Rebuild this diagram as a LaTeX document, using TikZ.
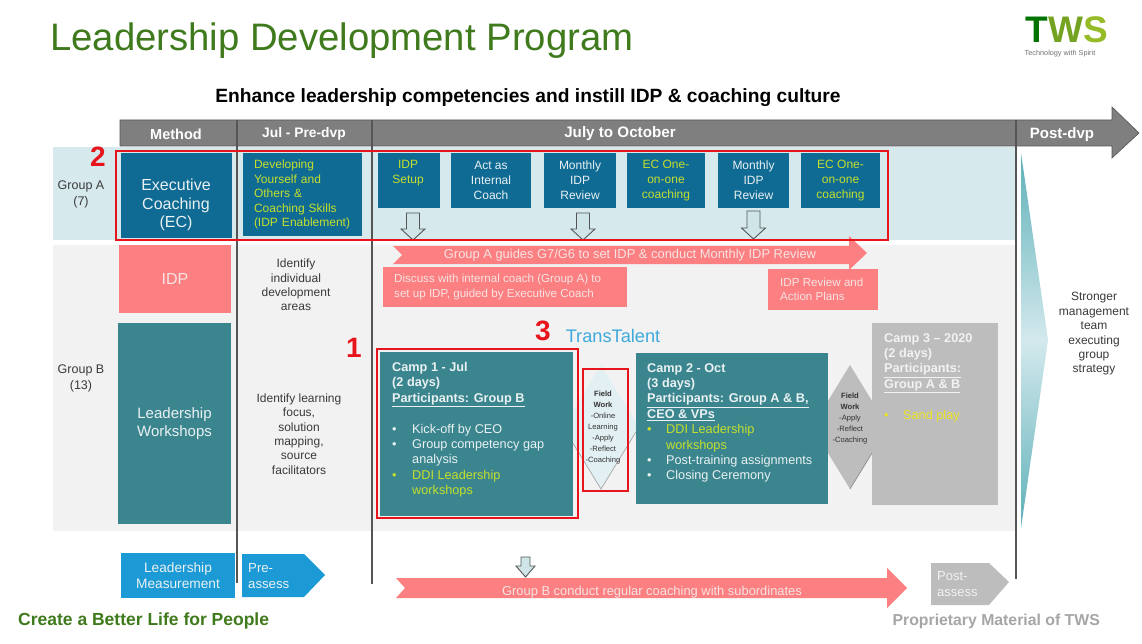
\documentclass[tikz,border=0pt]{standalone}
\usepackage{fontspec}
\setmainfont{Liberation Sans}
\usetikzlibrary{shapes.geometric}
\definecolor{dgreen}{HTML}{3F7A1C}
\definecolor{navy}{HTML}{0F6A94}
\definecolor{lime}{HTML}{C4E02C}
\definecolor{pinkb}{HTML}{FC8081}
\definecolor{pinkt}{HTML}{F7E3E3}
\definecolor{teal}{HTML}{3B858F}
\definecolor{bandg}{HTML}{F2F2F2}
\definecolor{bandb}{HTML}{D6EAEE}
\definecolor{headg}{HTML}{7F7F7F}
\definecolor{lineg}{HTML}{555555}
\definecolor{redm}{HTML}{E8141C}
\definecolor{graybox}{HTML}{BDBDBD}
\definecolor{bluem}{HTML}{1C9AD6}
\definecolor{txt}{HTML}{3A3A3A}
\definecolor{hollow}{HTML}{CFE5E8}
\definecolor{whit}{HTML}{E9F1F2}
\definecolor{triedge}{HTML}{5DB0B8}
\definecolor{trimid}{HTML}{D3E9ED}
\newcommand{\fs}[2]{\fontsize{#1}{#2}\selectfont}
% \rbox{name}{x1}{y1}{x2}{y2}{style}{text}
\newcommand{\rbox}[7]{\node[shape=rectangle,inner sep=0pt,outer sep=0pt,align=center,minimum width={(#4-#2)*1pt},minimum height={(#5-#3)*1pt},#6] (#1) at ({(#2+#4)/2},{(#3+#5)/2}) {#7};}
\newcommand{\hollowarrow}[3]{\draw[hollowstyle] (#1-6.5,#2) -- (#1+6.5,#2) -- (#1+6.5,#3-11) -- (#1+12,#3-11) -- (#1,#3) -- (#1-12,#3-11) -- (#1-6.5,#3-11) -- cycle;}
\newcommand{\bul}[2]{{\color{#1}\makebox[#2][l]{\textbullet}}}
\tikzset{
  x=1pt,y=-1pt,
  hollowstyle/.style={draw=lineg,fill=hollow,line width=0.9pt,line join=miter},
  navybox/.style={fill=navy,text=whit,font=\fs{12}{15}},
  limebox/.style={fill=navy,text=lime,font=\fs{12}{15}},
  pinkbox/.style={fill=pinkb,text=pinkt},
  pinklabel/.style={anchor=west,align=left,inner sep=0pt,text=pinkt,font=\fs{11.6}{14.5}},
  redframe/.style={draw=redm,line width=1.8pt,fill=none},
  vline/.style={draw=lineg,line width=1.1pt},
  head/.style={text=white,font=\bfseries\fs{14.5}{17}},
  dark/.style={text=txt,font=\fs{12}{14.4},align=center},
  rednum/.style={text=redm,font=\bfseries\fs{28}{30}},
  fieldtxt/.style={text=black!80,font=\fs{7.6}{11},align=center},
  camptxt/.style={anchor=north west,align=left,text=whit,inner sep=0pt,font=\fs{12.7}{15.4}},
}
\begin{document}
\begin{tikzpicture}
\useasboundingbox (0,0) rectangle (1142,644);
\fill[white] (0,0) rectangle (1142,644);
% bands
\rbox{bandA}{53}{147}{1015}{240}{fill=bandb}{}
\rbox{bandB}{53}{245}{1015}{531}{fill=bandg}{}
% title
\node[anchor=west,inner sep=0pt,text=dgreen,font=\fs{38.3}{42}] (title) at (50,41) {Leadership Development Program};
\node[inner sep=0pt,text=black,font=\bfseries\fs{19.2}{22}] (sub) at (528,98) {Enhance leadership competencies and instill IDP \& coaching culture};
% logo
\node[inner sep=0pt,font=\bfseries\fs{37}{38},text=green!45!black] (logo) at (1067,30) {T{\color{dgreen!60!lime}W}{\color{dgreen!35!lime}S}};
\node[inner sep=0pt,text=black!55,font=\fs{7.3}{9}] (tag) at (1060,54) {Technology with Spirit};
% header arrow
\draw[fill=headg,draw=lineg,line width=0.6pt] (120,120) -- (1112,120) -- (1112,107) -- (1139,133) -- (1112,158) -- (1112,146) -- (120,146) -- cycle;
\node[head] (h1) at (176,134) {Method};
\node[head,font=\bfseries\fs{13.8}{17}] (h2) at (304,134) {Jul - Pre-dvp};
\node[head,font=\bfseries\fs{15.2}{17}] (h3) at (620,134) {July to October};
\node[head,font=\bfseries\fs{15}{17}] (h4) at (1062,135) {Post-dvp};
% group labels
\node[dark,font=\fs{12.5}{16}] (ga) at (81,194) {Group A\\(7)};
\node[dark,font=\fs{12.5}{16}] (gb) at (81,378) {Group B\\(13)};
% diamonds (under the camps)
\fill[bandb!70!white] (601,365) -- (639,427) -- (601,489) -- (563,427) -- cycle;
\draw[black!35,line width=0.7pt] (563,427) -- (601,489) -- (639,427);
\fill[graybox] (850,365) -- (888,427) -- (850,489) -- (812,427) -- cycle;
\draw[black!45,line width=0.7pt] (888,427) -- (850,489);
% method column
\rbox{ec}{121}{153}{232}{238}{fill=navy}{}
\node[text=whit,font=\fs{16}{18.4},align=center,inner sep=0pt] (ect) at (176,205) {Executive\\Coaching\\(EC)};
\rbox{idp}{119}{245}{231}{313}{fill=pinkb,text=pinkt,font=\fs{16}{18}}{IDP}
\rbox{lw}{118}{323}{231}{524}{fill=teal,text=whit,font=\fs{15}{18}}{Leadership\\Workshops}
\rbox{lm}{121}{553}{235}{598}{fill=bluem,text=whit,font=\fs{13.7}{16.2}}{Leadership\\Measurement}
% pre-dvp column
\rbox{dev}{243}{153}{362}{236}{limebox,font=\fs{12}{14.6},align=left,text width=97pt}{Developing\\Yourself and\\Others \&\\Coaching Skills\\(IDP Enablement)}
\node[dark] (ident) at (296,285) {Identify\\individual\\development\\areas};
\node[dark] (learn) at (299,434) {Identify learning\\focus,\\solution\\mapping,\\source\\facilitators};
% July-Oct top row
\rbox{s1}{378}{153}{440}{208}{fill=navy}{}
\node[text=lime,font=\fs{12}{15},align=center,inner sep=0pt] (s1t) at (408,173.5) {IDP\\Setup};
\rbox{s2}{451}{153}{531}{208}{navybox}{Act as\\Internal\\Coach}
\rbox{s3}{544}{153}{616}{208}{navybox}{Monthly\\IDP\\Review}
\rbox{s4}{627}{153}{705}{208}{limebox}{EC One-\\on-one\\coaching}
\rbox{s5}{718}{153}{789}{208}{navybox}{Monthly\\IDP\\Review}
\rbox{s6}{801}{153}{880}{208}{limebox}{EC One-\\on-one\\coaching}
% pink arrow A
\fill[pinkb] (393,246) -- (849,246) -- (849,236) -- (867,253) -- (849,270) -- (849,264) -- (393,264) -- (402,255) -- cycle;
\node[text=pinkt,font=\fs{12.9}{14},inner sep=0pt] (aa) at (630,255) {Group A guides G7/G6 to set IDP \& conduct Monthly IDP Review};
% hollow arrows
\hollowarrow{413}{213}{240}
\hollowarrow{583}{213}{240}
\hollowarrow{753.5}{211}{239}
% pink boxes
\rbox{disc}{383}{267}{627}{307}{pinkbox}{}
\node[pinklabel] (disct) at (394,287) {Discuss with internal coach (Group A) to\\set up IDP, guided by Executive Coach};
\rbox{rev}{768}{269}{878}{310}{pinkbox}{}
\node[pinklabel] (revt) at (780,289.5) {IDP Review and\\Action Plans};
% numbers
\node[rednum] (n2) at (98,157) {2};
\node[rednum] (n1) at (354,348) {1};
\node[rednum] (n3) at (543,331) {3};
\node[text=bluem!85!white,font=\fs{18.2}{20},inner sep=0pt] (tt) at (613,336) {TransTalent};
% camps
\rbox{c1}{380}{352}{573}{516}{fill=teal}{}
\rbox{c2}{636}{353}{828}{504}{fill=teal}{}
\rbox{c3}{872}{323}{998}{505}{fill=graybox}{}
\node[camptxt] (t1) at (392,362) {\textbf{Camp 1 - Jul}\\\textbf{(2 days)}\\\textbf{\underline{Participants: Group B}}\\[15.4pt]\bul{whit}{20pt}Kick-off by CEO\\\bul{whit}{20pt}Group competency gap\\\hspace*{20pt}analysis\\\bul{lime}{20pt}\textcolor{lime}{DDI Leadership}\\\hspace*{20pt}\textcolor{lime}{workshops}};
\node[camptxt] (t2) at (647,363) {\textbf{Camp 2 - Oct}\\\textbf{(3 days)}\\\textbf{\underline{Participants: Group A \& B,}}\\\textbf{\underline{CEO \& VPs}}\\\bul{lime}{19pt}\textcolor{lime}{DDI Leadership}\\\hspace*{19pt}\textcolor{lime}{workshops}\\\bul{whit}{19pt}Post-training assignments\\\bul{whit}{19pt}Closing Ceremony};
\node[camptxt,text=bandg] (t3) at (884,333) {\textbf{Camp 3 -- 2020}\\\textbf{(2 days)}\\\textbf{\underline{Participants:}}\\\textbf{\underline{Group A \& B}}\\[15.4pt]\bul{yellow!85!gray}{19pt}\textcolor{yellow!85!gray}{Sand play}};
\node[fieldtxt] (f1) at (603,428) {\textbf{Field}\\\textbf{Work}\\-Online\\Learning\\-Apply\\-Reflect\\-Coaching};
\node[fieldtxt] (f2) at (850,419) {\textbf{Field}\\\textbf{Work}\\-Apply\\-Reflect\\-Coaching};
% bottom row
\fill[bluem] (242,554) -- (304,554) -- (325,575) -- (304,597) -- (242,597) -- cycle;
\node[anchor=west,align=left,text=whit,font=\fs{13.2}{16.2},inner sep=0pt] (pre) at (248,576) {Pre-\\assess};
\fill[pinkb] (396,578) -- (887,578) -- (887,568) -- (907,588) -- (887,608) -- (887,598) -- (396,598) -- (405,588) -- cycle;
\node[text=pinkt,font=\fs{12.9}{14},inner sep=0pt] (bb) at (652,592) {Group B conduct regular coaching with subordinates};
\draw[hollowstyle] (521,557) -- (530,557) -- (530,566) -- (535,566) -- (525.5,577) -- (516,566) -- (521,566) -- cycle;
\fill[graybox] (931,563) -- (989,563) -- (1009,582) -- (989,605) -- (931,605) -- cycle;
\node[anchor=west,align=left,text=bandg,font=\fs{13}{16.2},inner sep=0pt] (post) at (937,584) {Post-\\assess};
% outcome triangle
\shade[top color=triedge,bottom color=triedge,middle color=trimid] (1021,153) -- (1048,340) -- (1021,528) -- cycle;
\node[dark] (out) at (1094,334) {Stronger\\management\\team\\executing\\group\\strategy};
% vertical lines
\draw[vline] (237,120) -- (237,583);
\draw[vline] (372,120) -- (372,584);
\draw[vline] (1016,120) -- (1016,579);
% red frames
\rbox{r2}{116}{151}{888}{240}{redframe}{}
\rbox{r1}{377}{349}{578}{518}{redframe}{}
\rbox{r3}{583}{369}{628}{491}{redframe}{}
% footer
\node[anchor=west,inner sep=0pt,text=dgreen,font=\bfseries\fs{17.5}{20}] (foot1) at (18,621) {Create a Better Life for People};
\node[anchor=east,inner sep=0pt,text=black!35,font=\bfseries\fs{15.8}{18}] (foot2) at (1100,621) {Proprietary Material of TWS};
\end{tikzpicture}
\end{document}
